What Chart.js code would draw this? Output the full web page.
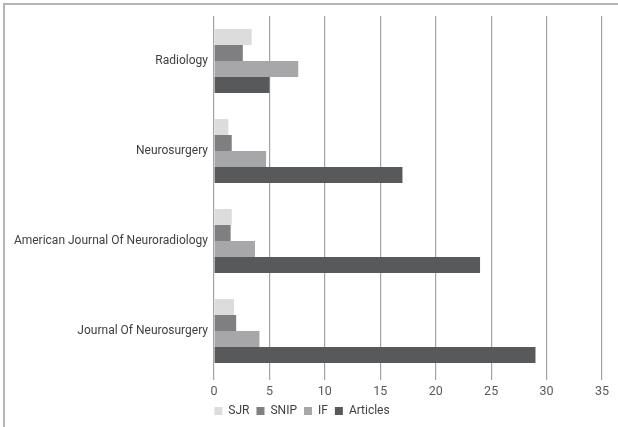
<!DOCTYPE html>
<html>
<head>
<meta charset="utf-8">
<script src="https://cdn.jsdelivr.net/npm/chart.js@4/dist/chart.umd.min.js"></script>
<style>
  html, body { margin: 0; padding: 0; background: #fff; }
  #frame { position: absolute; left: 3px; top: 3px; width: 615px; height: 424px;
           border-top: 2px solid #b4b4b4; border-left: 2px solid #b4b4b4; }
  #wrap { position: absolute; left: 0; top: 0; width: 618px; height: 427px; }
</style>
</head>
<body>
<div id="frame"></div>
<div id="wrap"><canvas id="chart"></canvas></div>
<script>
  const journals = ['Radiology', 'Neurosurgery', 'American Journal Of Neuroradiology', 'Journal Of Neurosurgery'];
  const sjr = [3.4, 1.3, 1.6, 1.8];
  const snip = [2.6, 1.6, 1.5, 2.0];
  const impactFactor = [7.6, 4.7, 3.7, 4.1];
  const articles = [5, 17, 24, 29];
  const xTicks = [0, 5, 10, 15, 20, 25, 30, 35];

  const font = "Roboto, 'Liberation Sans', sans-serif";

  new Chart(document.getElementById('chart'), {
    type: 'bar',
    data: {
      labels: journals,
      datasets: [
        { label: 'SJR', data: sjr, backgroundColor: '#dcdcdd' },
        { label: 'SNIP', data: snip, backgroundColor: '#7f7f81' },
        { label: 'IF', data: impactFactor, backgroundColor: '#a7a7a9' },
        { label: 'Articles', data: articles, backgroundColor: '#58595b' }
      ]
    },
    options: {
      indexAxis: 'y',
      responsive: true,
      maintainAspectRatio: false,
      animation: false,
      layout: { padding: { left: 2, right: 16, top: 16, bottom: 0 } },
      datasets: { bar: { categoryPercentage: 0.71, barPercentage: 1.0 } },
      plugins: {
        tooltip: { enabled: false },
        legend: {
          position: 'bottom',
          labels: {
            boxWidth: 8, boxHeight: 8, padding: 7,
            color: '#404040',
            font: { family: font, size: 12 }
          }
        }
      },
      scales: {
        x: {
          min: 0, max: 35,
          afterBuildTicks: (s) => { s.ticks = xTicks.map((v) => ({ value: v })); },
          grid: { color: '#a3a3a3', lineWidth: 1.2, tickLength: 4 },
          border: { display: false },
          ticks: { color: '#595959', padding: 4, font: { family: font, size: 12.5 } },
          afterFit: (s) => { s.height = 22; }
        },
        y: {
          grid: { display: false, drawTicks: false },
          border: { display: false },
          ticks: { color: '#404040', padding: 6, font: { family: font, size: 12 } },
          afterFit: (s) => { s.width = 212; }
        }
      }
    }
  });
</script>
</body>
</html>
